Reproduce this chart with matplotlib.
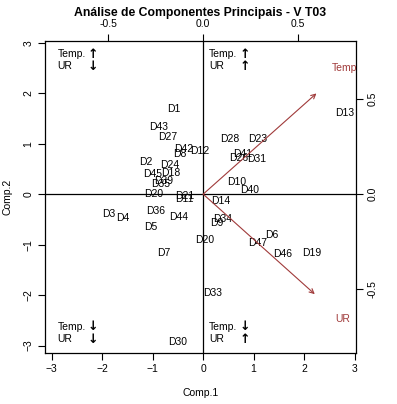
import matplotlib
matplotlib.use("Agg")
import matplotlib.pyplot as plt

plt.rcParams['font.family'] = ['Liberation Sans', 'DejaVu Sans']

#--------------------------------------------------------------------#
# Scores (Comp.1, Comp.2) of each sample
labels = ["D1", "D43", "D27", "D42", "D8", "D12", "D2", "D24", "D45", "D18",
          "D39", "D35", "D20", "D21", "D11", "D14", "D36", "D44", "D5", "D34",
          "D9", "D20", "D3", "D4", "D7", "D30", "D13", "D28", "D23", "D41",
          "D26", "D31", "D10", "D40", "D6", "D47", "D46", "D19", "D33"]
comp1 = [-0.59, -0.89, -0.70, -0.39, -0.47, -0.07, -1.14, -0.67, -1.00, -0.65,
         -0.78, -0.84, -0.98, -0.37, -0.38, 0.34, -0.95, -0.48, -1.04, 0.38,
         0.27, 0.03, -1.87, -1.60, -0.78, -0.51, 2.80, 0.53, 1.08, 0.79,
         0.71, 1.06, 0.67, 0.92, 1.35, 1.07, 1.57, 2.15, 0.18]
comp2 = [1.68, 1.34, 1.13, 0.89, 0.79, 0.86, 0.64, 0.57, 0.39, 0.41,
         0.26, 0.20, 0.01, -0.03, -0.10, -0.13, -0.34, -0.45, -0.66, -0.50,
         -0.57, -0.91, -0.40, -0.47, -1.17, -2.93, 1.60, 1.10, 1.10, 0.79,
         0.72, 0.69, 0.24, 0.09, -0.81, -0.96, -1.19, -1.17, -1.95]

# Loadings of the variables (label position, arrow drawn at 0.8 of it)
var_names = ["Temp", "UR"]
load1 = [0.746, 0.735]
load2 = [0.663, -0.658]

# Quadrant notes: direction of Temp. and UR
quad_x = [-2.89, 0.12, -2.89, 0.12]
quad_y = [2.77, 2.77, -2.63, -2.63]
quad_temp = ["↑", "↑", "↓", "↓"]
quad_ur = ["↓", "↑", "↓", "↑"]

#--------------------------------------------------------------------#
fig = plt.figure(figsize=(3.97, 4.04), dpi=100)
ax = fig.add_axes([0.1134, 0.127, 0.7834, 0.7723])
ax.set_xlim(-3.135, 3.03)
ax.set_ylim(-3.14, 3.04)

for lab, x, y in zip(labels, comp1, comp2):
    ax.text(x, y, lab, fontsize=7.5, ha="center", va="center")

ax.axhline(0, color="black", lw=0.9)
ax.axvline(0, color="black", lw=0.9)

for qx, qy, t, u in zip(quad_x, quad_y, quad_temp, quad_ur):
    ax.text(qx, qy, "Temp.", fontsize=7.5, ha="left", va="center")
    ax.text(qx, qy - 0.24, "UR", fontsize=7.5, ha="left", va="center")
    ax.text(qx + 0.71, qy, t, fontsize=9, fontweight="bold", ha="center",
            va="center", family=["DejaVu Sans"])
    ax.text(qx + 0.71, qy - 0.24, u, fontsize=9, fontweight="bold",
            ha="center", va="center", family=["DejaVu Sans"])

ax.set_xticks([-3, -2, -1, 0, 1, 2, 3])
ax.set_yticks([-3, -2, -1, 0, 1, 2, 3])
ax.tick_params(labelsize=7.5, length=5, width=0.8, direction="out")
for lab in ax.get_yticklabels():
    lab.set_rotation(90)
    lab.set_va("center")
ax.set_xlabel("Comp.1", fontsize=7.5, labelpad=10)
ax.set_ylabel("Comp.2", fontsize=7.5, labelpad=8)
for s in ax.spines.values():
    s.set_linewidth(0.9)

# Secondary axes for the loadings scale
scale = 3.762
ax2 = fig.add_axes(ax.get_position(), frameon=False)
ax2.set_xlim(-3.135 / scale, 3.03 / scale)
ax2.set_ylim(-3.14 / scale, 3.04 / scale)
ax2.xaxis.tick_top()
ax2.yaxis.tick_right()
ax2.set_xticks([-0.5, 0.0, 0.5])
ax2.set_yticks([-0.5, 0.0, 0.5])
ax2.set_xticklabels(["-0.5", "0.0", "0.5"])
ax2.set_yticklabels(["-0.5", "0.0", "0.5"], rotation=90, va="center")
ax2.tick_params(labelsize=7.5, length=5, width=0.8, direction="out")

arrow_col = "#a03a3a"
for name, lx, ly in zip(var_names, load1, load2):
    ax2.annotate("", xy=(0.8 * lx, 0.8 * ly), xytext=(0, 0),
                 arrowprops=dict(arrowstyle="->", color=arrow_col, lw=0.8,
                                 shrinkA=0, shrinkB=0, mutation_scale=8))
    ax2.text(lx, ly, name, fontsize=7.5, color=arrow_col, ha="center",
             va="center", clip_on=True)

fig.text(0.504, 0.968, "Análise de Componentes Principais - V T03",
         fontsize=8.8, fontweight="bold", ha="center", va="center")

fig.savefig("out.png", dpi=100)
